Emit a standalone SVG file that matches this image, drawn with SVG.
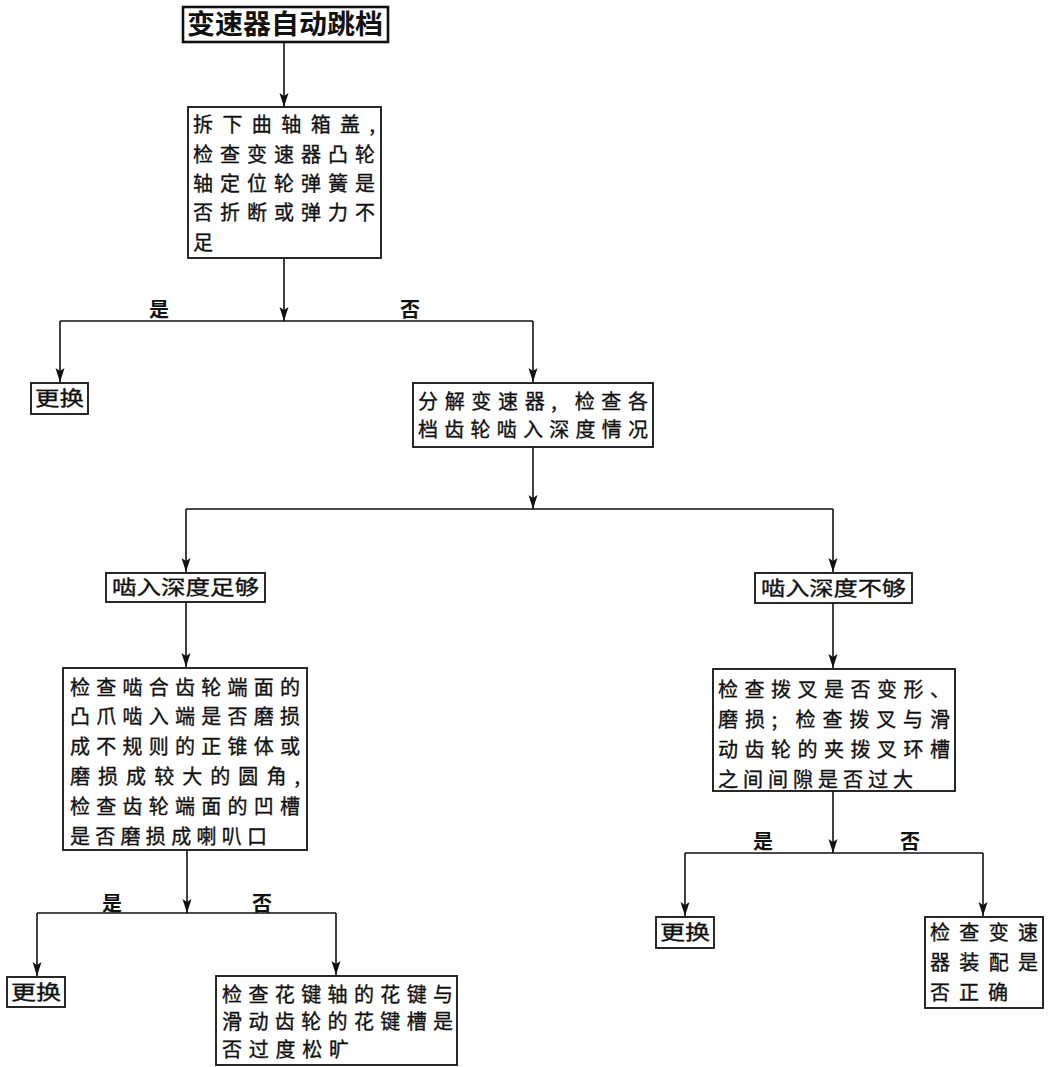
<svg xmlns="http://www.w3.org/2000/svg" width="1050" height="1067" viewBox="0 0 1050 1067">
<style>
.bx{fill:#fff;stroke:#111;stroke-width:1.8}
.tb{fill:#fff;stroke:#111;stroke-width:2.6}
.t{font-family:"Noto Sans CJK SC","Noto Sans CJK TC",sans-serif;font-size:20px;fill:#111;stroke:#111;stroke-width:0.35}
.tt{font-family:"Noto Sans CJK SC","Noto Sans CJK TC",sans-serif;font-size:27px;font-weight:bold;fill:#111}
.lb{font-family:"Noto Sans CJK SC","Noto Sans CJK TC",sans-serif;font-size:20px;font-weight:bold;fill:#111;text-anchor:middle}
.c{fill:none;stroke:#111;stroke-width:1.6}
.ca{fill:none;stroke:#111;stroke-width:1.6;marker-end:url(#ah)}
</style>
<defs>
<marker id="ah" markerUnits="userSpaceOnUse" markerWidth="15" markerHeight="10" refX="14" refY="5" orient="auto">
<path d="M0,0.5 L14,5 L0,9.5 L3,5 z" fill="#111"/>
</marker>
</defs>
<rect width="1050" height="1067" fill="#fff"/>
<g id="connectors">
<line class="ca" x1="284" y1="42" x2="284" y2="107"/>
<line class="ca" x1="284" y1="258" x2="284" y2="321"/>
<polyline class="c" points="60,321 533,321"/>
<line class="ca" x1="60" y1="321" x2="60" y2="382"/>
<line class="ca" x1="533" y1="321" x2="533" y2="382"/>
<line class="ca" x1="533" y1="447" x2="533" y2="509"/>
<polyline class="c" points="186,509 833,509"/>
<line class="ca" x1="186" y1="509" x2="186" y2="572"/>
<line class="ca" x1="833" y1="509" x2="833" y2="572"/>
<line class="ca" x1="186" y1="602" x2="186" y2="667"/>
<line class="ca" x1="833" y1="603" x2="833" y2="668"/>
<line class="ca" x1="187" y1="850" x2="187" y2="913"/>
<polyline class="c" points="37,913 336,913"/>
<line class="ca" x1="37" y1="913" x2="37" y2="976"/>
<line class="ca" x1="336" y1="913" x2="336" y2="975"/>
<line class="ca" x1="833" y1="791" x2="833" y2="853"/>
<polyline class="c" points="685,853 983,853"/>
<line class="ca" x1="685" y1="853" x2="685" y2="916"/>
<line class="ca" x1="983" y1="853" x2="983" y2="916"/>
<text class="lb" x="159" y="317">是</text>
<text class="lb" x="410" y="317">否</text>
<text class="lb" x="112" y="911">是</text>
<text class="lb" x="262" y="911">否</text>
<text class="lb" x="763" y="849">是</text>
<text class="lb" x="910" y="849">否</text>
</g>
<g id="n1">
<rect class="tb" x="183" y="7" width="205" height="35"/>
<text class="tt" x="187" y="34" textLength="196" lengthAdjust="spacingAndGlyphs">变速器自动跳档</text>
</g>
<g id="n2">
<rect class="bx" x="188" y="107" width="193" height="151"/>
<text class="t" x="193" y="132" textLength="182">拆下曲轴箱盖,</text>
<text class="t" x="193" y="162" textLength="182">检查变速器凸轮</text>
<text class="t" x="193" y="191" textLength="182">轴定位轮弹簧是</text>
<text class="t" x="193" y="220" textLength="182">否折断或弹力不</text>
<text class="t" x="193" y="250">足</text>
</g>
<g id="n3">
<rect class="bx" x="31" y="383" width="57" height="31"/>
<text class="t" x="35" y="406" font-size="22" textLength="49" lengthAdjust="spacingAndGlyphs">更换</text>
</g>
<g id="n4">
<rect class="bx" x="413" y="383" width="240" height="64"/>
<text class="t" x="418" y="409" textLength="230">分解变速器, 检查各</text>
<text class="t" x="418" y="437" textLength="230">档齿轮啮入深度情况</text>
</g>
<g id="n5">
<rect class="bx" x="106" y="573" width="159" height="29"/>
<text class="t" x="112" y="595" font-size="21" textLength="147" lengthAdjust="spacingAndGlyphs">啮入深度足够</text>
</g>
<g id="n6">
<rect class="bx" x="755" y="573" width="157" height="30"/>
<text class="t" x="761" y="596" font-size="21" textLength="145" lengthAdjust="spacingAndGlyphs">啮入深度不够</text>
</g>
<g id="n7">
<rect class="bx" x="63" y="668" width="244" height="182"/>
<text class="t" x="70" y="695" textLength="230">检查啮合齿轮端面的</text>
<text class="t" x="70" y="724" textLength="230">凸爪啮入端是否磨损</text>
<text class="t" x="70" y="754" textLength="230">成不规则的正锥体或</text>
<text class="t" x="70" y="784" textLength="230">磨损成较大的圆角,</text>
<text class="t" x="70" y="814" textLength="230">检查齿轮端面的凹槽</text>
<text class="t" x="70" y="844" textLength="197">是否磨损成喇叭口</text>
</g>
<g id="n8">
<rect class="bx" x="713" y="669" width="242" height="122"/>
<text class="t" x="718" y="697" textLength="232">检查拨叉是否变形、</text>
<text class="t" x="718" y="727" textLength="232">磨损; 检查拨叉与滑</text>
<text class="t" x="718" y="757" textLength="232">动齿轮的夹拨叉环槽</text>
<text class="t" x="718" y="787" textLength="195">之间间隙是否过大</text>
</g>
<g id="n9">
<rect class="bx" x="7" y="977" width="58" height="30"/>
<text class="t" x="11" y="1000" font-size="22" textLength="50" lengthAdjust="spacingAndGlyphs">更换</text>
</g>
<g id="n10">
<rect class="bx" x="216" y="976" width="241" height="89"/>
<text class="t" x="222" y="1002" textLength="231">检查花键轴的花键与</text>
<text class="t" x="222" y="1029" textLength="231">滑动齿轮的花键槽是</text>
<text class="t" x="222" y="1057" textLength="127">否过度松旷</text>
</g>
<g id="n11">
<rect class="bx" x="656" y="917" width="58" height="31"/>
<text class="t" x="660" y="940" font-size="22" textLength="50" lengthAdjust="spacingAndGlyphs">更换</text>
</g>
<g id="n12">
<rect class="bx" x="925" y="917" width="118" height="91"/>
<text class="t" x="930" y="940" textLength="108">检查变速</text>
<text class="t" x="930" y="970" textLength="108">器装配是</text>
<text class="t" x="930" y="1000" textLength="78">否正确</text>
</g>
</svg>
